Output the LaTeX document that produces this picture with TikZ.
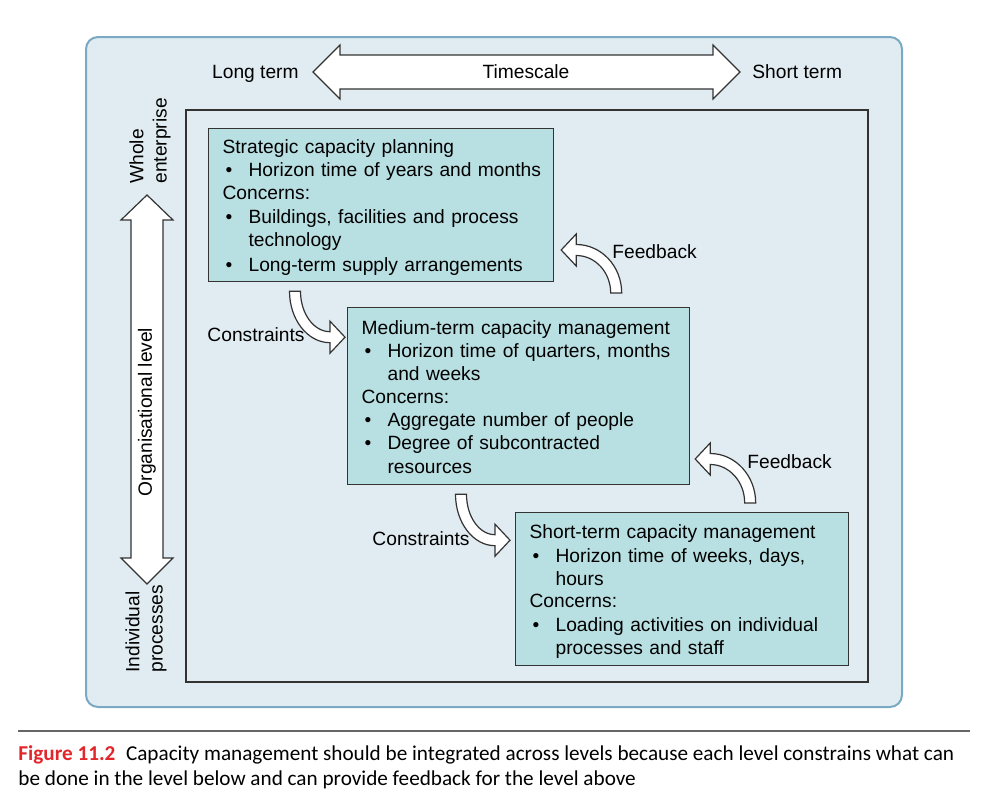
\documentclass[tikz,border=0pt]{standalone}
\usepackage{fontspec}
\setmainfont{Liberation Sans}
\newfontfamily\capfont{Carlito}
\usetikzlibrary{positioning}

\definecolor{panelbg}{HTML}{E1ECF2}
\definecolor{panelrim}{HTML}{7AAAC3}
\definecolor{boxfill}{HTML}{B8DFE2}
\definecolor{inkgray}{HTML}{333333}
\definecolor{figred}{HTML}{E3262B}

% bullet line, broken by hand with \\
\newcommand{\bitem}[1]{\par\makebox[13pt][l]{\hspace{1.5pt}\textbullet}\begin{tabular}[t]{@{}l@{}}#1\end{tabular}}

% hollow bent arrow: centre, x radius, y radius, rotation
\newcommand{\bendarrow}[4]{%
  \filldraw[bendshape, shift={(#1)}, rotate=#4]
    (-#2+5.5,0) -- (-#2-5.5,0)
    arc[start angle=180, end angle=90, x radius=#2+5.5, y radius=#3+5.5]
    -- ++(0,10.5) -- (15,#3) -- (0,#3-16) -- (0,#3-5.5)
    arc[start angle=90, end angle=180, x radius=#2-5.5, y radius=#3-5.5]
    -- cycle;}

\tikzset{
  panel/.style={draw=panelrim, line width=1pt, fill=panelbg, rounded corners=6pt},
  frame/.style={draw=inkgray, line width=0.6pt},
  levelbox/.style={draw=inkgray, line width=0.6pt, fill=boxfill, anchor=north west,
    inner xsep=7pt, inner ysep=0pt, align=left, font=\fontsize{9.6}{11.65}\selectfont,
    execute at begin node=\rule{0pt}{11pt}},
  label/.style={font=\fontsize{9.6}{11.65}\selectfont, inner sep=0pt,
    text height=6.9pt, text depth=0pt},
  sidelabel/.style={font=\fontsize{9.6}{11.65}\selectfont, inner sep=0pt, rotate=90},
  blockarrow/.style={draw=inkgray, line width=0.6pt, fill=white},
  bendshape/.style={draw=inkgray, line width=0.6pt, fill=white, line join=miter},
  caprule/.style={draw=black!60, line width=0.7pt}
}

\begin{document}
\begin{tikzpicture}[x=0.5pt, y=-0.5pt]
  \useasboundingbox (0,0) rectangle (982,803);

  % background panel and frame
  \draw[panel] (86,37) rectangle (902,707);
  \draw[frame] (186,110) rectangle (868,682);

  % timescale arrow
  \draw[blockarrow] (313,72) -- (340,45) -- (340,55) -- (713,55) -- (713,45) -- (740,72)
    -- (713,99) -- (713,89) -- (340,89) -- (340,99) -- cycle;
  \node[label] (timescale) at (526,72) {Timescale};
  \node[label, anchor=east] (longterm) at (299,72) {Long term};
  \node[label, anchor=west] (shortterm) at (752,72) {Short term};

  % organisational level arrow
  \draw[blockarrow] (147,195) -- (173,220) -- (163,220) -- (163,558) -- (173,558) -- (147,584)
    -- (121,558) -- (131,558) -- (131,220) -- (121,220) -- cycle;
  \node[sidelabel] (orglevel) at (147,412) {Organisational level};
  \node[sidelabel, anchor=west, align=left] (whole) at (150,184) {Whole\\enterprise};
  \node[sidelabel, anchor=west, align=left] (indiv) at (146,673) {Individual\\processes};

  % the three levels
  \node[levelbox, text width=158.5pt, minimum height=76.5pt] (strat) at (208,128) {%
    Strategic capacity planning
    \bitem{Horizon time of years and months}
    \par Concerns:
    \bitem{Buildings, facilities and process\\technology}
    \bitem{Long-term supply arrangements}};
  \node[levelbox, text width=157pt, minimum height=88.5pt] (medium) at (347,307) {%
    Medium-term capacity management
    \bitem{Horizon time of quarters, months\\and weeks}
    \par Concerns:
    \bitem{Aggregate number of people}
    \bitem{Degree of subcontracted\\resources}};
  \node[levelbox, text width=152.5pt, minimum height=76.5pt] (short) at (515,512) {%
    Short-term capacity management
    \bitem{Horizon time of weeks, days,\\hours}
    \par Concerns:
    \bitem{Loading activities on individual\\processes and staff}};

  % constraints and feedback
  \path (strat.south -| medium.west) ++(-17,9) coordinate (c1);
  \path (strat.east |- medium.north) ++(22,-14) coordinate (f1);
  \path (medium.south -| short.west) ++(-20,9) coordinate (c2);
  \path (medium.east |- short.north) ++(20,-9) coordinate (f2);
  \bendarrow{c1}{35}{46}{0}
  \bendarrow{f1}{40}{43}{180}
  \bendarrow{c2}{34}{46}{0}
  \bendarrow{f2}{40}{44}{180}
  \node[label, anchor=east] (cons1) at (305,335) {Constraints};
  \node[label, anchor=west] (feed1) at (612,252) {Feedback};
  \node[label, anchor=east] (cons2) at (470,539) {Constraints};
  \node[label, anchor=west] (feed2) at (747,462) {Feedback};

  % caption
  \draw[caprule] (18,731) -- (970,731);
  \node[anchor=north west, inner sep=0pt, align=left,
    font=\capfont\fontsize{10.6}{12.5}\selectfont] (caption) at (18,745) {%
    \textcolor{figred}{\bfseries Figure 11.2}\enspace Capacity management should be integrated across levels because each level constrains what can\\
    be done in the level below and can provide feedback for the level above};
\end{tikzpicture}
\end{document}
